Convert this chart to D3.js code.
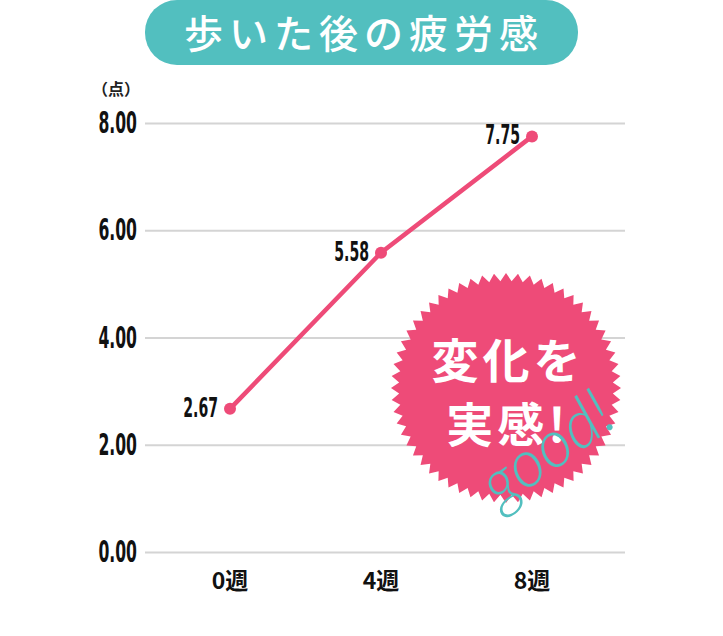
<!DOCTYPE html>
<html>
<head>
<meta charset="utf-8">
<script src="https://cdn.jsdelivr.net/npm/d3@7"></script>
<style>
  body { margin: 0; background: #fff; }
  svg { display: block; }
  .num { font-family: "DejaVu Sans Condensed", "DejaVu Sans", sans-serif; font-weight: bold; fill: #111; }
  .jp { font-family: "Noto Sans CJK JP", sans-serif; }
</style>
</head>
<body>
<svg width="723" height="636"></svg>
<script>
// data
var weeks = ["0週", "4週", "8週"];
var fatigue = [2.67, 5.58, 7.75];
var yTicks = [0, 2, 4, 6, 8];

var pink = "#ee4b78";
var teal = "#52bfbf";

const svg = d3.select("svg");

const plotLeft = 145, plotRight = 625;
const plotTop = 123, plotBottom = 552;
const squeeze = 0.58; // condensed look for the numbers

const x = d3.scalePoint()
    .domain(weeks)
    .range([230, 532]);

const y = d3.scaleLinear()
    .domain([0, 8])
    .range([plotBottom, plotTop]);

// title pill
svg.append("rect")
    .attr("x", 145).attr("y", 0)
    .attr("width", 433).attr("height", 65)
    .attr("rx", 32).attr("fill", teal);
svg.append("text")
    .attr("class", "jp")
    .attr("x", 364).attr("y", 48)
    .attr("text-anchor", "middle")
    .attr("font-size", 39)
    .attr("font-weight", 500)
    .attr("letter-spacing", 6)
    .attr("fill", "#fff")
    .text("歩いた後の疲労感");

// grid
const grid = svg.append("g")
    .attr("transform", `translate(${plotLeft},0)`)
    .call(d3.axisLeft(y)
      .tickValues(yTicks)
      .tickSize(-(plotRight - plotLeft))
      .tickFormat(""));
grid.select(".domain").remove();
grid.selectAll(".tick line").attr("stroke", "#d4d4d4").attr("stroke-width", 2);

// y labels
svg.selectAll(".ylab")
    .data(yTicks)
    .enter()
    .append("text")
    .attr("class", "num")
    .attr("transform", (d) => `translate(137,${y(d) + 10}) scale(${squeeze},1)`)
    .attr("text-anchor", "end")
    .attr("font-size", 30)
    .text((d) => d.toFixed(2));

svg.append("text")
    .attr("class", "jp")
    .attr("x", 116).attr("y", 95)
    .attr("text-anchor", "middle")
    .attr("font-size", 16)
    .attr("font-weight", "bold")
    .attr("fill", "#222")
    .text("（点）");

// x labels
svg.selectAll(".xlab")
    .data(weeks)
    .enter()
    .append("text")
    .attr("class", "jp")
    .attr("x", (d) => x(d))
    .attr("y", 589)
    .attr("text-anchor", "middle")
    .attr("font-size", 23)
    .attr("font-weight", "bold")
    .attr("fill", "#111")
    .text((d) => d);

// line
const line = d3.line()
    .x((d, i) => x(weeks[i]))
    .y((d) => y(d));

svg.append("path")
    .datum(fatigue)
    .attr("d", line)
    .attr("fill", "none")
    .attr("stroke", pink)
    .attr("stroke-width", 4.5);

svg.selectAll(".dot")
    .data(fatigue)
    .enter()
    .append("circle")
    .attr("cx", (d, i) => x(weeks[i]))
    .attr("cy", (d) => y(d))
    .attr("r", 6)
    .attr("fill", pink);

svg.selectAll(".val")
    .data(fatigue)
    .enter()
    .append("text")
    .attr("class", "num")
    .attr("transform", (d, i) => `translate(${x(weeks[i]) - 12},${y(d) + 8}) scale(${squeeze},1)`)
    .attr("text-anchor", "end")
    .attr("font-size", 27)
    .text((d) => d.toFixed(2));

// badge
const cx = 506, cy = 388;
const teeth = 60;
const starPts = d3.range(teeth * 2).map((i) => [
    (i / (teeth * 2)) * 2 * Math.PI,
    i % 2 === 0 ? 115 : 107
]);
svg.append("path")
    .attr("transform", `translate(${cx},${cy})`)
    .attr("d", d3.lineRadial().curve(d3.curveLinearClosed)(starPts))
    .attr("fill", pink);

svg.append("text")
    .attr("class", "jp")
    .attr("x", cx + 2).attr("y", 378)
    .attr("text-anchor", "middle")
    .attr("font-size", 47)
    .attr("font-weight", "bold")
    .attr("letter-spacing", 4)
    .attr("fill", "#fff")
    .text("変化を");
svg.append("text")
    .attr("class", "jp")
    .attr("x", cx + 2).attr("y", 442)
    .attr("text-anchor", "middle")
    .attr("font-size", 47)
    .attr("font-weight", "bold")
    .attr("letter-spacing", 4)
    .attr("fill", "#fff")
    .text("実感!");

svg.append("text")
    .attr("transform", "translate(500,510) rotate(-36)")
    .attr("font-family", "Lato, sans-serif")
    .attr("font-style", "italic")
    .attr("font-weight", 300)
    .attr("font-size", 66)
    .attr("fill", teal)
    .text("good!");
</script>
</body>
</html>
